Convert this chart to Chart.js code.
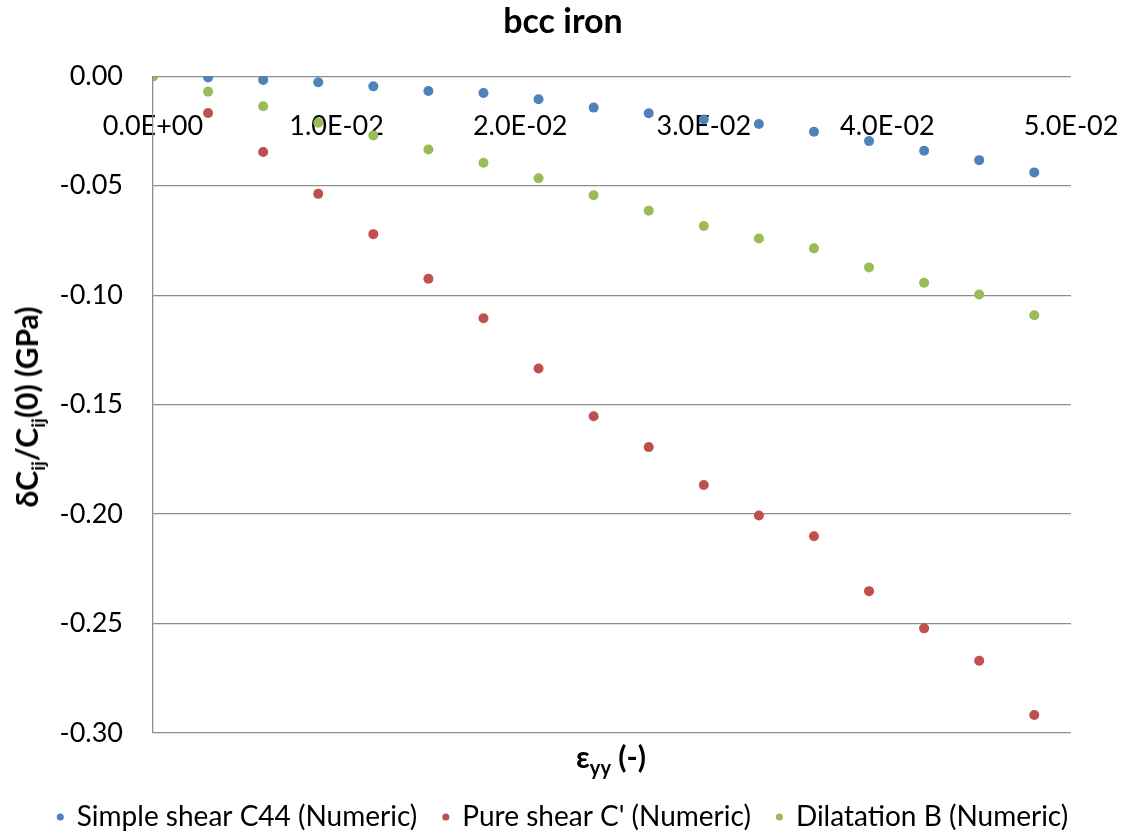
<!DOCTYPE html>
<html>
<head>
<meta charset="utf-8">
<script src="https://cdn.jsdelivr.net/npm/chart.js@4"></script>
<style>
  html, body { margin: 0; padding: 0; background: #fff; }
  #wrap { position: relative; width: 1126px; height: 833px; font-family: Lato, "Open Sans", sans-serif; }
  canvas { display: block; }
  .atitle { position: absolute; font-weight: bold; color: #000; white-space: nowrap; line-height: 1; }
  #ytitle { left: 29px; top: 407px; font-size: 30px; transform: translate(-50%, -50%) rotate(-90deg); }
  #ytitle sub { font-size: 19px; vertical-align: -7px; }
  #xtitle { left: 611px; top: 759px; font-size: 30px; transform: translate(-50%, -50%); }
  #xtitle sub { font-size: 20px; vertical-align: -7px; }
</style>
</head>
<body>
<div id="wrap">
  <canvas id="c" width="1126" height="833"></canvas>
  <div id="ytitle" class="atitle">δC<sub>ij</sub>/C<sub>ij</sub>(0) (GPa)</div>
  <div id="xtitle" class="atitle">ε<sub>yy</sub> (-)</div>
</div>
<script>
// ---- data ----
const strain = [0, 0.003, 0.006, 0.009, 0.012, 0.015, 0.018, 0.021, 0.024, 0.027, 0.030, 0.033, 0.036, 0.039, 0.042, 0.045, 0.048];
const simpleShearC44 = [0, -0.0005, -0.0017, -0.0027, -0.0046, -0.0067, -0.0076, -0.0105, -0.0143, -0.0169, -0.0197, -0.0218, -0.0253, -0.0296, -0.0340, -0.0383, -0.0439];
const pureShearCp = [0, -0.0168, -0.0346, -0.0537, -0.0721, -0.0925, -0.1105, -0.1335, -0.1553, -0.1694, -0.1867, -0.2006, -0.2101, -0.2352, -0.2522, -0.2670, -0.2918];
const dilatationB = [0, -0.0070, -0.0137, -0.0212, -0.0270, -0.0334, -0.0395, -0.0466, -0.0543, -0.0614, -0.0684, -0.0741, -0.0786, -0.0873, -0.0943, -0.0997, -0.1092];
const seriesNames = ["Simple shear C44 (Numeric)", "Pure shear C' (Numeric)", "Dilatation B (Numeric)"];
const seriesColors = ["#4F81BD", "#C0504D", "#9BBB59"];
const chartTitle = "bcc iron";
const yTicks = { min: -0.30, max: 0, step: 0.05 };
const xTicks = { min: 0, max: 0.05, step: 0.01 };

function pts(ys) { return strain.map((x, i) => ({ x: x, y: ys[i] })); }
function sci(v) {
  if (Math.abs(v) < 1e-12) return '0.0E+00';
  const e = Math.floor(Math.log10(Math.abs(v)) + 1e-9);
  const m = v / Math.pow(10, e);
  return m.toFixed(1) + 'E' + (e < 0 ? '-' : '+') + String(Math.abs(e)).padStart(2, '0');
}

const FONT = 'Lato';
const allSeries = [simpleShearC44, pureShearCp, dilatationB];
const datasets = allSeries.map((s, i) => ({
  label: seriesNames[i],
  data: pts(s),
  backgroundColor: seriesColors[i],
  borderColor: seriesColors[i],
  borderWidth: 0,
  pointRadius: 5,
  pointHoverRadius: 5,
  pointStyle: 'circle',
  showLine: false,
  order: i === 2 ? 0 : 1
}));

new Chart(document.getElementById('c'), {
  type: 'scatter',
  data: { datasets: datasets },
  options: {
    responsive: false,
    animation: false,
    layout: { padding: { top: 2, left: 0, right: 0, bottom: -8 } },
    plugins: {
      tooltip: { enabled: false },
      title: {
        display: true, text: chartTitle, color: '#000',
        font: { family: FONT, size: 34, weight: 'bold' },
        padding: { top: 0, bottom: 33.5 }
      },
      legend: {
        position: 'bottom',
        labels: {
          usePointStyle: true, boxWidth: 5, boxHeight: 5, color: '#000',
          font: { family: FONT, size: 28 }, padding: 26,
          sort: (a, b) => a.datasetIndex - b.datasetIndex
        }
      }
    },
    scales: {
      x: {
        type: 'linear', position: { y: 0 },
        min: xTicks.min, max: xTicks.max,
        grid: { display: false, drawTicks: false },
        border: { display: false },
        ticks: { stepSize: xTicks.step, callback: v => sci(v), color: '#000', font: { family: FONT, size: 27 }, padding: 33.5, maxRotation: 0, autoSkip: false },
        afterFit: s => { s.paddingLeft = 0; s.paddingRight = 0; }
      },
      x2: {
        type: 'linear', position: 'bottom', display: true,
        grid: { display: false, drawTicks: false },
        border: { display: false },
        ticks: { display: false },
        afterFit: s => { s.height = 44; }
      },
      y: {
        type: 'linear', position: 'left',
        min: yTicks.min, max: yTicks.max,
        grid: { color: '#8c8c8c', lineWidth: 1.3, drawTicks: false },
        border: { display: true, color: '#8c8c8c', width: 1.3 },
        ticks: { stepSize: yTicks.step, callback: v => v.toFixed(2), color: '#000', font: { family: FONT, size: 27 }, padding: 30 },
        afterFit: s => { s.width = 153; s.paddingTop = 0; s.paddingBottom = 0; }
      },
      y2: {
        type: 'linear', position: 'right', display: true,
        grid: { display: false, drawTicks: false },
        border: { display: false },
        ticks: { display: false },
        afterFit: s => { s.width = 55; }
      }
    }
  }
});
</script>
</body>
</html>
